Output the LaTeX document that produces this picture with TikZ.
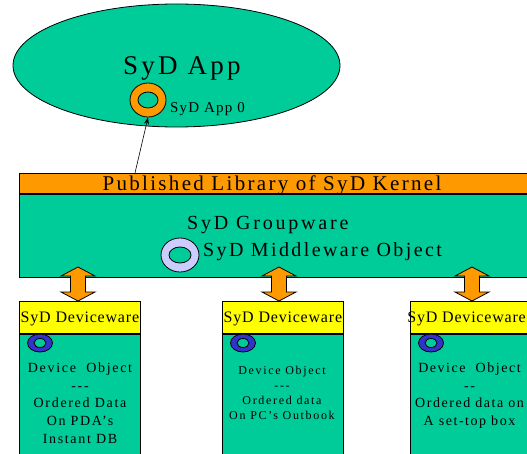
\documentclass[tikz,border=0pt]{standalone}
\usepackage{fontspec}
\setmainfont{Liberation Serif}
\usetikzlibrary{shapes.geometric,arrows.meta,calc}
\definecolor{sydgreen}{HTML}{00CC99}
\definecolor{sydorange}{HTML}{FF9900}
\definecolor{sydyellow}{HTML}{FFFF00}
\definecolor{sydblue}{HTML}{3333CC}
\definecolor{sydlav}{HTML}{CCCCFF}

\begin{document}
\begin{tikzpicture}[x=1pt,y=-1pt,
  outline/.style={draw=black, line width=0.8pt},
  panel/.style={outline, fill=sydgreen, inner sep=0pt, anchor=north west},
  ringpart/.style={ellipse, outline, inner sep=0pt},
  label/.style={inner sep=0pt, text=black},
  fatarrow/.style={outline, fill=sydorange, line join=miter},
  divider/.style={draw=black, line width=2pt},
  devtext/.style={label, align=center, anchor=north},
]
\useasboundingbox (0,0) rectangle (527,454);
\clip (0,0) rectangle (527,454);

% application ellipse with its object ring
\node[ellipse, outline, fill=sydgreen, minimum width=327pt, minimum height=123pt, inner sep=0pt] (app) at (176.5,65.5) {};
\node[label, anchor=base west, font=\fontsize{27}{30}\selectfont\addfontfeatures{LetterSpace=12}] (apptitle) at (123,75) {SyD App};
\node[ringpart, fill=sydorange, minimum width=36pt, minimum height=34pt] (appobj) at (148,100) {};
\node[ringpart, fill=sydgreen, minimum width=20pt, minimum height=16pt] (appobjhole) at (appobj) {};
\node[label, anchor=base west, font=\fontsize{15}{17}\selectfont\addfontfeatures{LetterSpace=8}] (appobjname) at (170,113) {SyD App 0};

% groupware panel and kernel library bar
\node[panel, minimum width=540pt, minimum height=84pt] (groupware) at (19,193) {};
\node[panel, fill=sydorange, minimum width=540pt, minimum height=20pt] (kernel) at (19,173) {};
\draw[divider] (kernel.south west) -- (kernel.south east);
\node[label, anchor=base, font=\fontsize{21}{24}\selectfont\addfontfeatures{LetterSpace=11}] (kerneltext) at (272,191) {Published Library of SyD Kernel};
\node[label, anchor=base west, font=\fontsize{20}{24}\selectfont\addfontfeatures{LetterSpace=14}] (gwtitle) at (187,230) {SyD Groupware};
\node[ringpart, fill=sydlav, minimum width=38pt, minimum height=34pt] (mwobj) at (180,255) {};
\node[ringpart, fill=sydgreen, minimum width=22pt, minimum height=16pt] (mwobjhole) at (mwobj) {};
\node[label, anchor=base west, font=\fontsize{20}{24}\selectfont\addfontfeatures{LetterSpace=12}] (mwtext) at (203,257) {SyD Middleware Object};

% library link up to the application object
\coordinate (libout) at (135,173);
\draw[line width=0.6pt, -{Stealth[length=7pt,width=5pt]}] (libout) -- (appobj.south);

% deviceware columns
\foreach \i/\x in {1/19, 2/222, 3/410} {
  \node[panel, fill=sydyellow, minimum width=121pt, minimum height=32pt] (dw\i) at (\x,301) {};
  \node[panel, minimum width=121pt, minimum height=140pt] (body\i) at (\x,333) {};
  \draw[divider] (dw\i.south west) -- (dw\i.south east);
  \node[ringpart, fill=sydblue, minimum width=25pt, minimum height=18pt] (devobj\i) at ($(body\i.north west)+(21,10)$) {};
  \node[ringpart, fill=sydgreen, minimum width=12pt, minimum height=9pt] (devobjhole\i) at (devobj\i) {};
}
\node[label, anchor=base, font=\fontsize{16}{18}\selectfont\addfontfeatures{LetterSpace=5}] (dwtext1) at ($(dw1.south)+(0,-11)$) {SyD Deviceware};
\node[label, anchor=base, font=\fontsize{16}{18}\selectfont\addfontfeatures{LetterSpace=5}] (dwtext2) at ($(dw2.south)+(0,-11)$) {SyD Deviceware};
\node[label, anchor=base east, font=\fontsize{16}{18}\selectfont\addfontfeatures{LetterSpace=5}] (dwtext3) at ($(dw3.south west)+(116,-11)$) {SyD Deviceware};

% object descriptions
\node[devtext, font=\fontsize{14}{17.75}\selectfont\addfontfeatures{LetterSpace=12}] (desc1) at (80,362.5)
  {Device\ \ Object\\-{}-{}-\\Ordered Data\\On PDA's\\Instant DB};
\node[devtext, font=\fontsize{12}{15.3}\selectfont\addfontfeatures{LetterSpace=14}] (desc2) at (282,365.5)
  {Device Object\\-{}-{}-\\Ordered data\\On PC's Outbook};
\node[devtext, font=\fontsize{14}{17.75}\selectfont\addfontfeatures{LetterSpace=11}] (desc3) at (469.5,362.5)
  {Device\ \ Object\\-{}-\\Ordered data on\\A set-top box};

% fat double arrows between groupware and deviceware
\foreach \i/\ax in {1/78, 2/279, 3/472} {
  \coordinate (up\i) at (\ax,267);
  \coordinate (dn\i) at (\ax,301);
  \draw[fatarrow] (up\i) -- ++(17,9) -- ++(-9.5,0) -- ($(dn\i)+(7.5,-9)$) -- ++(9.5,0)
    -- (dn\i) -- ++(-17,-9) -- ++(9.5,0) -- ($(up\i)+(-7.5,9)$) -- ++(-9.5,0) -- cycle;
}
\end{tikzpicture}
\end{document}
